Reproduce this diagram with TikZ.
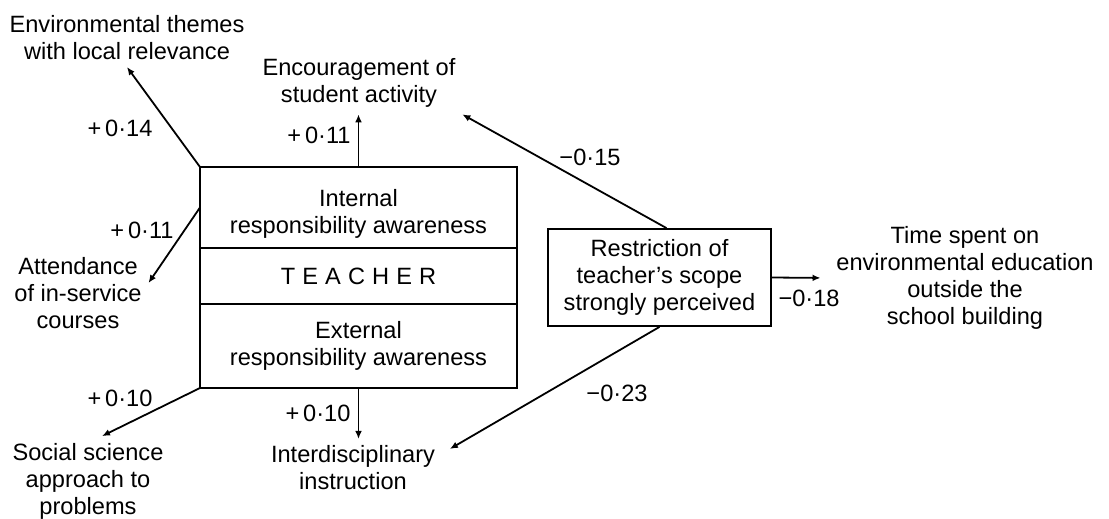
\documentclass[tikz,border=0pt]{standalone}
\usepackage{fontspec}
\setmainfont{Liberation Sans}
\usetikzlibrary{positioning, calc, arrows.meta}

\begin{document}
\begin{tikzpicture}
		[x=0.5pt, y=-0.5pt, line width=0.9pt,
		 font=\fontsize{11.8}{13.5}\selectfont,
		 part/.style={draw, minimum width=158.5pt, outer sep=0pt, align=center},
		 txt/.style={align=center, inner sep=3pt},
		 coef/.style={inner sep=0pt},
		 link/.style={-{Latex[length=4pt, width=3.4pt]}}]
		\useasboundingbox (0,0) rectangle (1109,519);
		\node[part, minimum height=40.5pt] (internal) at (358.5,207.5) {\rule{0pt}{15pt}Internal\\responsibility awareness};
		\node[part, minimum height=28pt, below=0pt of internal] (teach) {\addfontfeature{LetterSpace=30}TEACHER};
		\node[part, minimum height=42pt, below=0pt of teach] (external) {External\\responsibility awareness};
		\node[draw, minimum width=111.5pt, minimum height=48.5pt, align=center] (restr) at (659.5,277.5) {Restriction of\\teacher’s scope\\strongly perceived};

		\node[txt] (env) at (127,38) {Environmental themes\\with local relevance};
		\node[txt] (enc) at (359,83) {Encouragement of\\student activity};
		\node[txt] (att) at (78,293) {Attendance\\of in-service\\courses};
		\node[txt] (soc) at (88,481) {Social science\\approach to\\problems};
		\node[txt] (inter) at (353,468) {Interdisciplinary\\instruction};
		\node[txt] (time) at (965,278) {Time spent on\\environmental education\\outside the\\school building};

		\draw[link] (internal.north west) -- (env.south);
		\draw[link] (internal.west) -- ([yshift=5pt]att.east);
		\draw[link] (internal.north) -- (internal.north |- enc.south);
		\draw[link] (external.south) -- (external.south |- inter.north);
		\draw[link] (external.south west) -- ([xshift=7pt]soc.north);
		\draw[link] ([xshift=3.5pt]restr.north) -- (enc.south east);
		\draw[link] (restr.south) -- ([shift={(4pt,-5pt)}]inter.north east);
		\draw[link, shorten >=4.5pt] (restr.east) -- (time.west);

		\node[coef] (c14) at (120,128) {+\,0·14};
		\node[coef] (c11a) at (319,135) {+\,0·11};
		\node[coef] (c11b) at (142,230) {+\,0·11};
		\node[coef] (c10a) at (120,398) {+\,0·10};
		\node[coef] (c10b) at (318,413) {+\,0·10};
		\node[coef] (c15) at (590,157) {−0·15};
		\node[coef] (c23) at (617,393) {−0·23};
		\node[coef] (c18) at (809,298) {−0·18};
	\end{tikzpicture}
\end{document}
